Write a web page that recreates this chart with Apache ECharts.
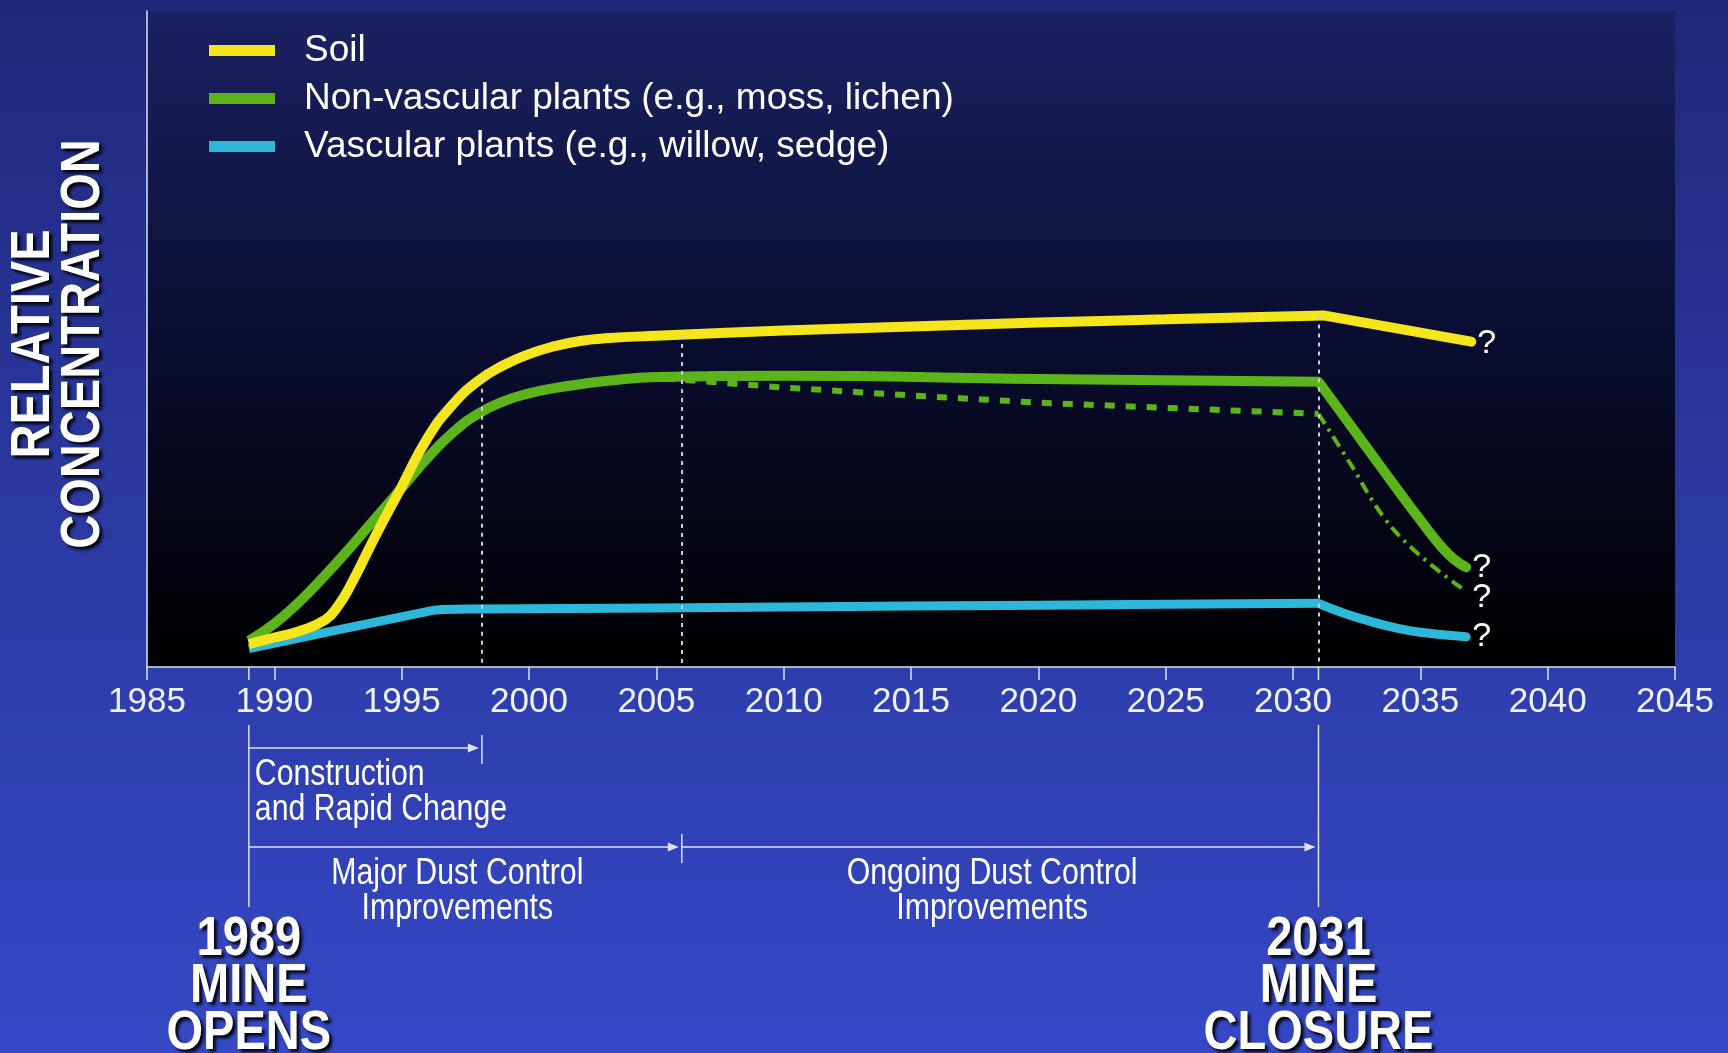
<!DOCTYPE html>
<html>
<head>
<meta charset="utf-8">
<title>Relative concentration</title>
<script src="https://cdn.jsdelivr.net/npm/echarts@6/dist/echarts.min.js"></script>
<style>
    html, body { margin: 0; padding: 0; }
    body { background: linear-gradient(to bottom, #1e2878 0%, #2a389f 45%, #3548c6 100%); }
    #chart { width: 1728px; height: 1053px; }
</style>
</head>
<body>
<div id="chart"></div>
<script>
var tickLabels = ['1985', '1990', '1995', '2000', '2005', '2010', '2015', '2020', '2025', '2030', '2035', '2040', '2045'];

var soilYears = [1989, 1990, 1991, 1992, 1992.5, 1993, 1994, 1995, 1996, 1997, 1998, 1999, 2000, 2001, 2002, 2003, 2005, 2010, 2015, 2020, 2025, 2031.2, 2037];
var soilValues = [3.5, 4.5, 5.5, 7.2, 9.3, 12.5, 20.2, 27.5, 34.8, 40.0, 43.6, 46.0, 47.7, 48.9, 49.7, 50.1, 50.5, 51.3, 51.9, 52.5, 53.0, 53.6, 49.6];
var soilPeakYear = 2031.2;

var mossYears = [1989, 1990, 1991, 1992, 1993, 1994, 1995, 1996, 1997, 1998, 1999, 2000, 2001, 2002, 2003, 2005, 2010, 2020, 2031, 2032, 2033, 2034, 2035, 2035.9, 2036.4, 2036.8];
var mossValues = [4.0, 6.6, 10.0, 14.0, 18.3, 22.8, 27.3, 31.8, 35.7, 38.6, 40.5, 41.7, 42.5, 43.1, 43.6, 44.2, 44.4, 43.9, 43.5, 38.2, 32.9, 27.6, 22.4, 18.0, 16.2, 15.2];

// alternative moss path: dashed up to closure, dash-dot after
var mossAltYears = [2004.5, 2006, 2010, 2015, 2020, 2025, 2031];
var mossAltValues = [44.1, 43.8, 42.6, 41.4, 40.3, 39.5, 38.6];
var mossAltPostYears = [2031, 2032.25, 2033.55, 2034.9, 2036.8];
var mossAltPostValues = [38.6, 31.0, 22.9, 17.3, 11.5];

var vascYears = [1989, 1995.8, 1996.6, 1998, 2005, 2015, 2025, 2031, 2032, 2033, 2034, 2035, 2036.8];
var vascValues = [2.8, 8.3, 8.75, 8.85, 9.0, 9.3, 9.55, 9.7, 8.2, 7.0, 6.0, 5.3, 4.6];

var closureYear = 2031;

var dividerYears = [1998.15, 2006, 2031];
var dividerTops = [43.8, 50.6, 53.6];

var phaseStart = [1989, 1989, 2006];
var phaseEnd = [1998.15, 2006, 2031];
var phaseRow = [0, 1, 1];
var phaseLabels = ['Construction\nand Rapid Change', 'Major Dust Control\nImprovements', 'Ongoing Dust Control\nImprovements'];

var milestoneYears = [1989, 2031];
var milestoneLabels = ['1989\nMINE\nOPENS', '2031\nMINE\nCLOSURE'];

var seriesNames = ['Soil', 'Non-vascular plants (e.g., moss, lichen)', 'Vascular plants (e.g., willow, sedge)'];

var SANS = '"Liberation Sans", Arial, sans-serif';
var NARROW_SCALE = 0.84;
var YELLOW = '#f4e51d';
var GREEN = '#5cb41b';
var CYAN = '#2db8d9';
var PALE = '#dde1f5';
var SHADOW = {
    textShadowColor: 'rgba(0,0,0,0.9)',
    textShadowBlur: 3,
    textShadowOffsetX: 3,
    textShadowOffsetY: 3
};

function pairs(xs, ys) {
    return xs.map(function (x, i) { return [x, ys[i]]; });
}

// split a path at its corner year, both halves keep the corner point
function splitAt(xs, ys, corner) {
    let k = xs.indexOf(corner);
    return [pairs(xs.slice(0, k + 1), ys.slice(0, k + 1)), pairs(xs.slice(k), ys.slice(k))];
}

function question(offsetY) {
    return {
        show: true,
        formatter: '?',
        color: '#ffffff',
        fontSize: 34,
        fontFamily: SANS,
        distance: 6,
        offset: [0, offsetY || 0]
    };
}

function lineSeries(name, data, color, width, cap, extra) {
    let s = {
        name: name,
        type: 'line',
        data: data,
        showSymbol: false,
        smooth: 0.5,
        lineStyle: { color: color, width: width, join: 'round', cap: cap },
        itemStyle: { color: color }
    };
    return Object.assign(s, extra || {});
}

function narrowText(x, y, style) {
    return {
        type: 'text',
        x: x,
        y: y,
        scaleX: NARROW_SCALE,
        style: Object.assign({ x: 0, y: 0, fill: '#ffffff', fontFamily: SANS }, style)
    };
}

function renderPhase(params, api) {
    let i = params.dataIndex;
    let p1 = api.coord([phaseStart[i], 0]);
    let x1 = p1[0];
    let x2 = api.coord([phaseEnd[i], 0])[0];
    let y = p1[1] + (phaseRow[i] === 0 ? 81 : 180);
    let tip = x2 - 3;
    let line = { stroke: PALE, lineWidth: 1.5 };
    let children = [
        { type: 'line', shape: { x1: x1, y1: y, x2: tip - 6, y2: y }, style: line },
        { type: 'polygon', shape: { points: [[tip - 11, y - 4.5], [tip, y], [tip - 11, y + 4.5]] }, style: { fill: PALE } }
    ];
    if (milestoneYears.indexOf(phaseEnd[i]) < 0) {
        children.push({ type: 'line', shape: { x1: x2, y1: y - 13, x2: x2, y2: y + 16 }, style: line });
    }
    let left = phaseRow[i] === 0;
    children.push(narrowText(left ? x1 + 6 : (x1 + x2) / 2 - 8, y + 10, {
        text: phaseLabels[i],
        fontSize: 36,
        lineHeight: 35,
        align: left ? 'left' : 'center',
        verticalAlign: 'top'
    }));
    return { type: 'group', children: children };
}

function renderMilestone(params, api) {
    let i = params.dataIndex;
    let p = api.coord([milestoneYears[i], 0]);
    let line = { stroke: PALE, lineWidth: 1.5 };
    return {
        type: 'group',
        children: [
            { type: 'line', shape: { x1: p[0], y1: p[1], x2: p[0], y2: p[1] + 13 }, style: line },
            { type: 'line', shape: { x1: p[0], y1: p[1] + 58, x2: p[0], y2: p[1] + 240 }, style: line },
            narrowText(p[0], p[1] + 320, Object.assign({
                text: milestoneLabels[i],
                align: 'center',
                verticalAlign: 'middle',
                fontSize: 56,
                fontWeight: 'bold',
                lineHeight: 47
            }, SHADOW))
        ]
    };
}

var soilParts = splitAt(soilYears, soilValues, soilPeakYear);
var mossParts = splitAt(mossYears, mossValues, closureYear);
var vascParts = splitAt(vascYears, vascValues, closureYear);

var chart = echarts.init(document.getElementById('chart'));

var option = {
    animation: false,
    backgroundColor: 'transparent',
    grid: {
        left: 147,
        right: 53,
        top: 11,
        bottom: 386,
        show: true,
        borderWidth: 0,
        backgroundColor: new echarts.graphic.LinearGradient(0, 0, 0, 1, [
            { offset: 0, color: '#1b2262' },
            { offset: 0.5, color: '#0a0d30' },
            { offset: 1, color: '#000000' }
        ])
    },
    graphic: [
        {
            type: 'text',
            x: 59,
            y: 344,
            rotation: Math.PI / 2,
            scaleX: NARROW_SCALE,
            silent: true,
            style: Object.assign({
                text: 'RELATIVE\nCONCENTRATION',
                fill: '#ffffff',
                fontSize: 56,
                fontWeight: 'bold',
                fontFamily: SANS,
                lineHeight: 50,
                align: 'center',
                verticalAlign: 'middle'
            }, SHADOW)
        }
    ],
    legend: {
        data: seriesNames,
        orient: 'vertical',
        left: 209,
        top: 32,
        padding: 0,
        icon: 'rect',
        itemWidth: 66,
        itemHeight: 11,
        itemGap: 11,
        selectedMode: false,
        textStyle: {
            color: '#ffffff',
            fontSize: 37,
            lineHeight: 37,
            fontFamily: SANS,
            padding: [0, 0, 0, 24]
        }
    },
    xAxis: {
        type: 'value',
        min: 1985,
        max: 2045,
        interval: 5,
        splitLine: { show: false },
        axisLine: { lineStyle: { color: PALE, width: 1.5 } },
        axisTick: { length: 13, lineStyle: { color: PALE, width: 1.5 } },
        axisLabel: {
            color: '#eef0fa',
            fontSize: 35,
            fontFamily: SANS,
            margin: 18,
            formatter: function (v) { return tickLabels[Math.round((v - 1985) / 5)]; }
        }
    },
    yAxis: {
        type: 'value',
        min: 0,
        max: 100,
        splitLine: { show: false },
        axisTick: { show: false },
        axisLabel: { show: false },
        axisLine: { show: true, lineStyle: { color: PALE, width: 1.5 } }
    },
    series: [
        lineSeries(seriesNames[2], vascParts[0], CYAN, 9, 'butt'),
        lineSeries(seriesNames[2], vascParts[1], CYAN, 9, 'round', { endLabel: question(0) }),
        lineSeries('moss-alt', pairs(mossAltYears, mossAltValues), GREEN, 6, 'butt', {
            smooth: false,
            lineStyle: { color: GREEN, width: 6, type: [10, 11] }
        }),
        lineSeries('moss-alt-post', pairs(mossAltPostYears, mossAltPostValues), GREEN, 4, 'butt', {
            smooth: 0.4,
            lineStyle: { color: GREEN, width: 4, type: [12, 6, 3, 6] },
            endLabel: question(6)
        }),
        lineSeries(seriesNames[1], mossParts[0], GREEN, 10, 'butt'),
        lineSeries(seriesNames[1], mossParts[1], GREEN, 10, 'round', { endLabel: question(0) }),
        lineSeries(seriesNames[0], soilParts[0], YELLOW, 10, 'butt', {
            markLine: {
                silent: true,
                symbol: ['none', 'none'],
                label: { show: false },
                lineStyle: { color: '#c9cde0', type: [4, 5], width: 2 },
                data: dividerYears.map(function (yr, i) {
                    return [{ coord: [yr, dividerTops[i]] }, { coord: [yr, 0] }];
                })
            }
        }),
        lineSeries(seriesNames[0], soilParts[1], YELLOW, 10, 'round', { endLabel: question(2) }),
        {
            name: 'phases',
            type: 'custom',
            silent: true,
            clip: false,
            encode: { x: [0, 1], y: 2 },
            data: phaseStart.map(function (s, i) { return [s, phaseEnd[i], 0]; }),
            renderItem: renderPhase
        },
        {
            name: 'milestones',
            type: 'custom',
            silent: true,
            clip: false,
            encode: { x: 0, y: 1 },
            data: milestoneYears.map(function (yr) { return [yr, 0]; }),
            renderItem: renderMilestone
        }
    ]
};

chart.setOption(option);
</script>
</body>
</html>
